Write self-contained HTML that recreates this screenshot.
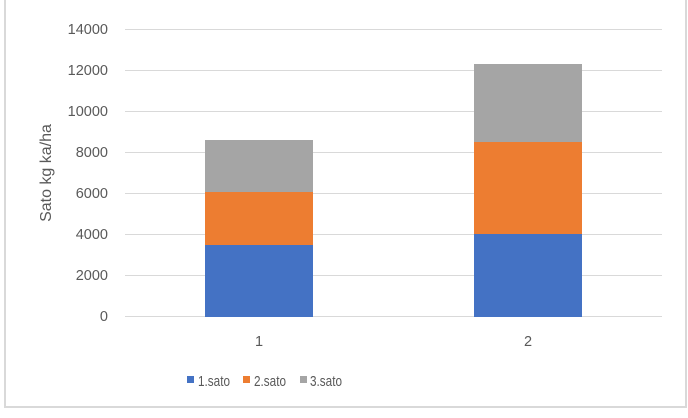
<!DOCTYPE html>
<html><head><style>
body{margin:0;background:#fff;}
svg text{font-family:"Liberation Sans",sans-serif;fill:#595959;}
</style></head><body>
<svg width="688" height="413" xmlns="http://www.w3.org/2000/svg">
<rect x="0" y="0" width="688" height="413" fill="#fff"/>
<rect x="5" y="-2" width="681" height="409" fill="none" stroke="#d9d9d9" stroke-width="2"/>
<g stroke="#d9d9d9" stroke-width="1">
<line x1="125" x2="662" y1="29.5" y2="29.5"/>
<line x1="125" x2="662" y1="70.5" y2="70.5"/>
<line x1="125" x2="662" y1="111.5" y2="111.5"/>
<line x1="125" x2="662" y1="152.5" y2="152.5"/>
<line x1="125" x2="662" y1="193.5" y2="193.5"/>
<line x1="125" x2="662" y1="234.5" y2="234.5"/>
<line x1="125" x2="662" y1="275.5" y2="275.5"/>
<line x1="125" x2="662" y1="316.5" y2="316.5"/>
</g>
<g font-size="14.5" text-anchor="end">
<text x="108" y="34">14000</text>
<text x="108" y="75">12000</text>
<text x="108" y="116">10000</text>
<text x="108" y="157">8000</text>
<text x="108" y="198">6000</text>
<text x="108" y="239">4000</text>
<text x="108" y="280">2000</text>
<text x="108" y="321">0</text>
</g>
<text transform="translate(51,173) rotate(-90)" font-size="16" text-anchor="middle">Sato kg ka/ha</text>
<rect x="205" y="245" width="108" height="72" fill="#4472c4"/>
<rect x="205" y="192" width="108" height="53" fill="#ed7d31"/>
<rect x="205" y="140" width="108" height="52" fill="#a5a5a5"/>
<rect x="474" y="234" width="108" height="83" fill="#4472c4"/>
<rect x="474" y="142" width="108" height="92" fill="#ed7d31"/>
<rect x="474" y="64" width="108" height="78" fill="#a5a5a5"/>
<g font-size="14.5" text-anchor="middle">
<text x="259" y="346">1</text>
<text x="528" y="346">2</text>
</g>
<rect x="187" y="376" width="7" height="7" fill="#4472c4"/>
<text x="198" y="386" font-size="14.5" textLength="32" lengthAdjust="spacingAndGlyphs">1.sato</text>
<rect x="243" y="376" width="7" height="7" fill="#ed7d31"/>
<text x="254" y="386" font-size="14.5" textLength="32" lengthAdjust="spacingAndGlyphs">2.sato</text>
<rect x="300" y="376" width="7" height="7" fill="#a5a5a5"/>
<text x="310" y="386" font-size="14.5" textLength="32" lengthAdjust="spacingAndGlyphs">3.sato</text>
</svg>
</body></html>
